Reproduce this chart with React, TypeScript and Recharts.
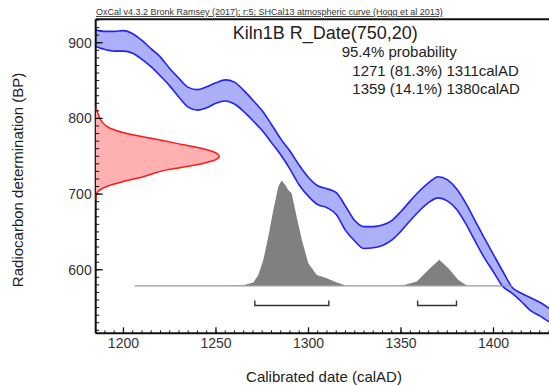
import React from 'react';
import { ComposedChart, XAxis, YAxis, Area, Line, Scatter } from 'recharts';

// Calibration curve (SHCal13) 2-sigma envelope, BP
const CURVE_YEARS = [1185, 1190, 1195, 1200, 1205, 1210, 1215, 1220, 1225, 1230, 1235, 1240, 1245, 1250, 1255, 1260, 1265, 1270, 1275, 1280, 1285, 1290, 1295, 1300, 1305, 1310, 1315, 1320, 1325, 1330, 1335, 1340, 1345, 1350, 1355, 1360, 1365, 1370, 1375, 1380, 1385, 1390, 1395, 1400, 1405, 1410, 1415, 1420, 1425, 1430];
const CURVE_UPPER = [917, 915, 915, 916, 912, 903, 892, 881, 866, 853, 841, 838, 842, 847, 851, 848, 837, 824, 810, 792, 773, 757, 738, 722, 711, 707, 702, 684, 665, 657, 657, 659, 665, 677, 691, 704, 715, 723, 719, 707, 688, 665, 642, 620, 598, 577, 569, 563, 557, 549];
const CURVE_LOWER = [895, 891, 889, 889, 886, 878, 868, 856, 843, 828, 815, 811, 814, 820, 823, 819, 809, 797, 784, 768, 752, 733, 712, 697, 686, 682, 673, 652, 638, 628, 629, 632, 639, 651, 665, 678, 689, 695, 691, 680, 661, 638, 616, 597, 578, 569, 558, 546, 539, 531];

// Radiocarbon measurement 750 +/- 20 BP (relative density)
const RED_BP = [815, 811, 805, 796, 787, 780, 774, 767, 761, 756, 749.5, 743, 737, 732, 723, 716.5, 710, 705.5, 701, 692];
const RED_DENSITY = [0, 0.008, 0.021, 0.049, 0.116, 0.251, 0.439, 0.655, 0.844, 0.951, 1, 0.925, 0.763, 0.574, 0.385, 0.223, 0.089, 0.035, 0.008, 0];

// Calibrated probability (drawn above baseline, in BP units)
const GRAY_BASE = 578.7;
const GRAY_YEARS = [1257.6, 1264.8, 1270.2, 1272.9, 1275.6, 1278.3, 1281.0, 1283.7, 1285.5, 1287.5, 1289.1, 1290.9, 1293.6, 1296.4, 1299.9, 1304.5, 1309.9, 1315.3, 1319.8, 1322.5, 1345, 1351.3, 1358.5, 1365.7, 1370.7, 1375.6, 1381.0, 1385.5, 1388];
const GRAY_TOP = [578.7, 579.6, 583.1, 593.2, 613.1, 643.8, 679.1, 709.9, 717.8, 712, 705.5, 701.2, 670.2, 639.5, 608.7, 593.2, 588.9, 583.1, 579.6, 578.7, 578.7, 579.6, 584.4, 602.1, 613.1, 602.1, 586.6, 579.1, 578.7];
const BASELINE_SPAN = [1206, 1410];

// 95.4% ranges
const RANGES = [[1271, 1311], [1359, 1380]];
const BRACKET_TOP = 559.3;
const BRACKET_BOTTOM = 552.7;

const X_DOMAIN = [1185, 1430];
const Y_DOMAIN = [516, 931];
const X_TICKS = [1200, 1250, 1300, 1350, 1400];
const Y_TICKS = [600, 700, 800, 900];
const X_MINOR = Array.from({ length: 50 }, (_, i) => 1185 + i * 5);
const Y_MINOR = Array.from({ length: 42 }, (_, i) => 520 + i * 10);
const DENSITY_DOMAIN = [0, 3.667];

const curveData = CURVE_YEARS.map((year, i) => ({ year, hi: CURVE_UPPER[i], lo: CURVE_LOWER[i], band: [CURVE_LOWER[i], CURVE_UPPER[i]] }));
const redData = RED_BP.map((bp, i) => ({ d: RED_DENSITY[i], bp }));
const grayData = GRAY_YEARS.map((year, i) => ({ year, g: [GRAY_BASE, GRAY_TOP[i]] }));
const baselineData = BASELINE_SPAN.map((year) => ({ year, v: GRAY_BASE }));
const bracketData = RANGES.map(([a, b]) => [
  { year: a, v: BRACKET_TOP },
  { year: a, v: BRACKET_BOTTOM },
  { year: b, v: BRACKET_BOTTOM },
  { year: b, v: BRACKET_TOP },
]);

const FONT = '"Liberation Sans", Arial, sans-serif';
const AXIS = { stroke: '#111', strokeWidth: 2 };
const THIN = 0.01;

const XMajorTick = (p: any) => (
  <g>
    <line x1={p.x} y1={p.y} x2={p.x} y2={p.y - 6} stroke="#111" strokeWidth={1.3} />
    <text x={p.x} y={p.y + 15} textAnchor="middle" fontSize={14} fontFamily={FONT} fill="#333">{p.payload.value}</text>
  </g>
);
const XMinorTick = (p: any) => <line x1={p.x} y1={p.y} x2={p.x} y2={p.y - 3} stroke="#111" strokeWidth={1} />;
const YMajorTick = (p: any) => (
  <g>
    <line x1={p.x} y1={p.y} x2={p.x + 7} y2={p.y} stroke="#111" strokeWidth={1.3} />
    <text x={p.x - 4} y={p.y + 5} textAnchor="end" fontSize={14} fontFamily={FONT} fill="#333">{p.payload.value}</text>
  </g>
);
const YMinorTick = (p: any) => <line x1={p.x} y1={p.y} x2={p.x + 3.5} y2={p.y} stroke="#111" strokeWidth={1} />;

export default function App() {
  return (
    <div style={{ position: 'absolute', left: 0, top: 0, width: 549, height: 385, background: '#fff' }}>
      <ComposedChart width={549} height={385} margin={{ top: 19.3 - THIN, right: 0, bottom: 51.7 - 3 * THIN, left: 95.7 - 2 * THIN }}>
        <XAxis xAxisId="main" dataKey="year" type="number" domain={X_DOMAIN} allowDataOverflow ticks={X_TICKS}
          height={THIN} tickSize={0} tickMargin={0} axisLine={AXIS} tickLine={false} tick={XMajorTick} interval={0} />
        <XAxis xAxisId="xminor" dataKey="year" type="number" domain={X_DOMAIN} allowDataOverflow ticks={X_MINOR}
          height={THIN} tickSize={0} tickMargin={0} axisLine={false} tickLine={false} tick={XMinorTick} interval={0} />
        <XAxis xAxisId="den" dataKey="d" type="number" domain={DENSITY_DOMAIN} allowDataOverflow height={THIN}
          axisLine={false} tickLine={false} tick={false} />
        <XAxis xAxisId="top" orientation="top" dataKey="year" type="number" domain={X_DOMAIN} allowDataOverflow ticks={[]}
          height={THIN} axisLine={AXIS} tickLine={false} tick={false} />
        <YAxis yAxisId="main" type="number" domain={Y_DOMAIN} allowDataOverflow ticks={Y_TICKS}
          width={THIN} tickSize={0} tickMargin={0} axisLine={AXIS} tickLine={false} tick={YMajorTick} interval={0} />
        <YAxis yAxisId="yminor" type="number" domain={Y_DOMAIN} allowDataOverflow ticks={Y_MINOR}
          width={THIN} tickSize={0} tickMargin={0} axisLine={false} tickLine={false} tick={YMinorTick} interval={0} />

        <Scatter xAxisId="den" yAxisId="main" data={redData} dataKey="bp" isAnimationActive={false}
          line={{ stroke: '#ff1a1a', strokeWidth: 1.5, fill: '#ffb0b0' }} lineJointType="monotoneY" lineType="joint"
          shape={() => <g />} />

        <Area xAxisId="main" yAxisId="main" data={curveData} dataKey="band" type="monotone" stroke="none" fill="#abb0f8" fillOpacity={1} isAnimationActive={false} />
        <Line xAxisId="main" yAxisId="main" data={curveData} dataKey="hi" type="monotone" stroke="#2222ee" strokeWidth={1.6} dot={false} isAnimationActive={false} />
        <Line xAxisId="main" yAxisId="main" data={curveData} dataKey="lo" type="monotone" stroke="#2222ee" strokeWidth={1.6} dot={false} isAnimationActive={false} />

        <Area xAxisId="main" yAxisId="main" data={grayData} dataKey="g" type="linear" stroke="none" fill="#808080" fillOpacity={1} isAnimationActive={false} />
        <Line xAxisId="main" yAxisId="main" data={baselineData} dataKey="v" type="linear" stroke="#9a9a9a" strokeWidth={1.2} dot={false} isAnimationActive={false} />
        {bracketData.map((d, i) => (
          <Line key={i} xAxisId="main" yAxisId="main" data={d} dataKey="v" type="linear" stroke="#333" strokeWidth={1.4} dot={false} isAnimationActive={false} />
        ))}
      </ComposedChart>
      <svg width={549} height={385} style={{ position: 'absolute', left: 0, top: 0, pointerEvents: 'none' }} fontFamily={FONT}>
        <text x={96} y={15} fontSize={9} fill="#333" textDecoration="underline">OxCal v4.3.2 Bronk Ramsey (2017); r:5; SHCal13 atmospheric curve (Hogg et al 2013)</text>
        <text x={232.7} y={39.3} fontSize={18} fill="#222">Kiln1B R_Date(750,20)</text>
        <text x={341.7} y={56.7} fontSize={15} fill="#222">95.4% probability</text>
        <text x={352.3} y={75.7} fontSize={15} fill="#222">1271 (81.3%) 1311calAD</text>
        <text x={352.3} y={94.3} fontSize={15} fill="#222">1359 (14.1%) 1380calAD</text>
        <text x={324} y={382} fontSize={15} fill="#222" textAnchor="middle">Calibrated date (calAD)</text>
        <text x={23} y={180} fontSize={15} fill="#222" textAnchor="middle" transform="rotate(-90, 23, 180)">Radiocarbon determination (BP)</text>
      </svg>
    </div>
  );
}
